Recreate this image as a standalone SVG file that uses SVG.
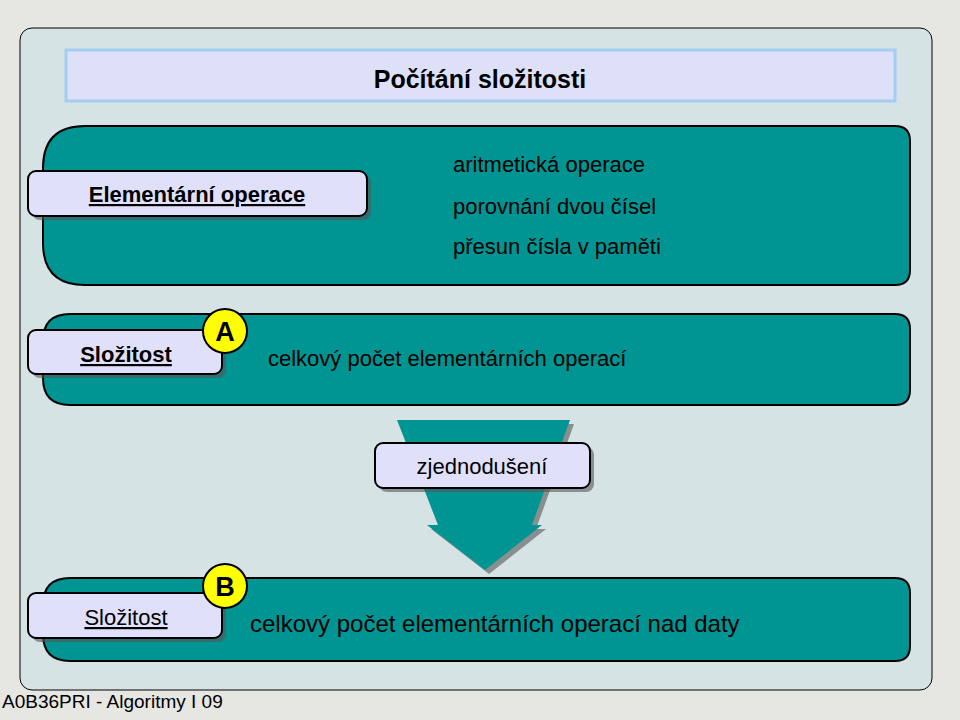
<svg xmlns="http://www.w3.org/2000/svg" width="960" height="720" viewBox="0 0 960 720">
<defs>
<style>
text{font-family:"Liberation Sans",Arial,sans-serif;fill:#000}
.teal{fill:#009593;stroke:#000;stroke-width:2}
.lab{fill:#e0e0fa;stroke:#000;stroke-width:2}
.sh{fill:#555;opacity:.6}
.b{font-weight:bold}
.u{text-decoration:underline}
</style>
</defs>
<rect width="960" height="720" fill="#e6e6e2"/>
<rect x="20" y="28" width="912" height="662" rx="12" fill="#d6e3e5" stroke="#000" stroke-width="1"/>
<g id="title">
<rect x="66" y="50" width="829" height="51" fill="#dde0f6" stroke="#a4cdf2" stroke-width="3"/>
<text x="480" y="88" font-size="25" class="b" text-anchor="middle">Počítání složitosti</text>
</g>
<g id="box1">
<path class="teal" d="M85,126 H895 Q910,126 910,141 V270 Q910,285 895,285 H85 Q43,285 43,243 V168 Q43,126 85,126 Z"/>
<text x="453" y="172" font-size="22">aritmetická operace</text>
<text x="453" y="214" font-size="22">porovnání dvou čísel</text>
<text x="453" y="254" font-size="22">přesun čísla v paměti</text>
<rect class="sh" x="32" y="175" width="339" height="45" rx="8"/>
<rect class="lab" x="28" y="171" width="339" height="45" rx="8"/>
<text x="197" y="202" font-size="22" class="b u" text-anchor="middle">Elementární operace</text>
</g>
<g id="box2">
<path class="teal" d="M70,314 H895 Q910,314 910,329 V390 Q910,405 895,405 H70 Q43,405 43,378 V341 Q43,314 70,314 Z"/>
<text x="268" y="366" font-size="22">celkový počet elementárních operací</text>
<rect class="sh" x="32" y="334" width="194" height="44" rx="8"/>
<rect class="lab" x="28" y="330" width="194" height="44" rx="8"/>
<text x="126" y="362" font-size="22" class="b u" text-anchor="middle">Složitost</text>
<circle cx="225" cy="331" r="22" fill="#ffff00" stroke="#000" stroke-width="2"/>
<text x="225" y="341" font-size="27" class="b" text-anchor="middle">A</text>
</g>
<g id="arrow">
<polygon points="401,424 574,424 536,529 546,529 489,574 431,529 442,529" fill="#555" opacity=".6"/>
<polygon points="397,420 570,420 532,525 542,525 485,570 427,525 438,525" fill="#009593"/>
<rect class="sh" x="379" y="447" width="215" height="45" rx="8"/>
<rect class="lab" x="375" y="443" width="215" height="45" rx="8"/>
<text x="482" y="474" font-size="22" text-anchor="middle">zjednodušení</text>
</g>
<g id="box3">
<path class="teal" d="M70,578 H895 Q910,578 910,593 V646 Q910,661 895,661 H70 Q43,661 43,634 V605 Q43,578 70,578 Z"/>
<text x="250" y="632" font-size="24">celkový počet elementárních operací nad daty</text>
<rect class="sh" x="32" y="597" width="194" height="45" rx="8"/>
<rect class="lab" x="28" y="593" width="194" height="45" rx="8"/>
<text x="126" y="625" font-size="22" text-anchor="middle" class="u">Složitost</text>
<circle cx="225" cy="586" r="22" fill="#ffff00" stroke="#000" stroke-width="2"/>
<text x="225" y="596" font-size="27" class="b" text-anchor="middle">B</text>
</g>
<text x="2" y="708" font-size="19">A0B36PRI - Algoritmy I 09</text>
</svg>
